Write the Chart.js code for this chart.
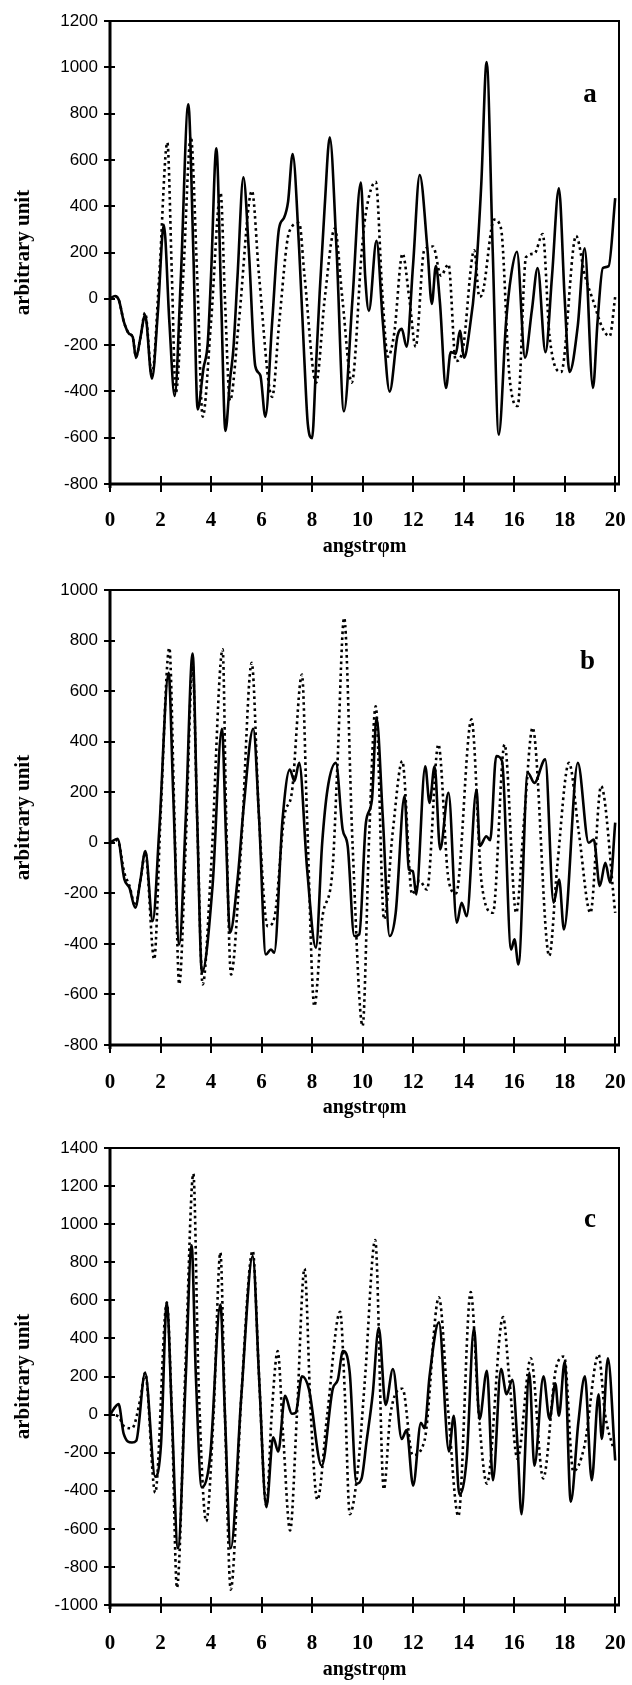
<!DOCTYPE html>
<html>
<head>
<meta charset="utf-8">
<script src="https://cdn.jsdelivr.net/npm/chart.js@4.4.1/dist/chart.umd.min.js"></script>
<style>
  html, body { margin: 0; padding: 0; background: #fff; overflow: hidden; }
  #page { position: relative; width: 632px; height: 1685px; background: #fff; }
  .panel { position: absolute; left: 0; width: 632px; }
</style>
</head>
<body>
<div id="page">
  <div class="panel" style="top:0;height:565px"><canvas id="chartA"></canvas></div>
  <div class="panel" style="top:565px;height:565px"><canvas id="chartB"></canvas></div>
  <div class="panel" style="top:1130px;height:555px"><canvas id="chartC"></canvas></div>
</div>
<script>
// values (x in angstrom, y in arbitrary units)

// panel a
const aSolidX = [0, 0.2, 0.35, 0.55, 0.75, 0.9, 1.03, 1.2, 1.39, 1.66, 1.9, 2.13, 2.35, 2.56, 2.8, 3.1, 3.3, 3.47, 3.7, 3.87, 4.0, 4.21, 4.4, 4.57, 4.75, 4.88, 5.05, 5.28, 5.5, 5.75, 5.95, 6.15, 6.42, 6.69, 6.89, 7.05, 7.23, 7.49, 7.69, 7.83, 8.0, 8.15, 8.3, 8.5, 8.7, 8.97, 9.26, 9.6, 9.93, 10.1, 10.25, 10.55, 10.8, 11.07, 11.38, 11.55, 11.74, 12.0, 12.26, 12.57, 12.74, 12.9, 13.06, 13.3, 13.49, 13.69, 13.85, 14.02, 14.2, 14.49, 14.7, 14.91, 15.15, 15.39, 15.68, 15.88, 16.11, 16.43, 16.7, 16.93, 17.24, 17.5, 17.77, 18.0, 18.19, 18.52, 18.79, 19.12, 19.3, 19.51, 19.74, 20.0];
const aSolidY = [0, 12, -5, -100, -150, -165, -255, -170, -70, -345, -50, 320, -100, -420, 80, 840, 200, -478, -300, -190, 100, 650, 0, -571, -350, -223, 100, 525, 200, -290, -330, -509, -100, 303, 350, 420, 625, 210, -254, -540, -602, -300, 25, 400, 698, 210, -486, 0, 502, 100, -52, 250, -100, -401, -161, -130, -207, 150, 535, 210, -22, 141, -14, -385, -230, -238, -138, -254, -161, 118, 500, 1023, 210, -587, -99, 102, 203, -254, -50, 133, -231, 100, 477, 0, -316, -115, 218, -385, -100, 133, 141, 435];
const aDotX = [0, 0.2, 0.35, 0.55, 0.75, 0.9, 1.03, 1.2, 1.39, 1.66, 1.95, 2.27, 2.45, 2.6, 2.9, 3.2, 3.45, 3.67, 4.0, 4.38, 4.55, 4.75, 5.1, 5.62, 5.9, 6.42, 6.7, 7.09, 7.49, 7.7, 8.16, 8.5, 8.9, 9.2, 9.57, 9.97, 10.12, 10.52, 10.78, 11.0, 11.25, 11.58, 11.85, 12.1, 12.44, 12.79, 13.1, 13.4, 13.69, 13.96, 14.42, 14.62, 14.75, 15.21, 15.48, 15.81, 16.14, 16.47, 16.8, 17.13, 17.4, 17.86, 18.45, 18.8, 19.12, 19.51, 19.78, 20.0];
const aDotY = [0, 10, -5, -100, -150, -165, -250, -170, -60, -330, 100, 675, 100, -408, 100, 700, 100, -509, -100, 458, 0, -440, -100, 466, 100, -424, -100, 288, 327, 100, -362, 0, 303, 0, -362, 210, 365, 505, 25, -250, -150, 195, 0, -207, 210, 226, 100, 149, -269, -223, 210, 9, 25, 342, 303, -331, -463, 180, 195, 280, -161, -316, 272, 100, -6, -130, -161, 9];

// panel b
const bSolidX = [0, 0.3, 0.57, 0.77, 1.0, 1.2, 1.4, 1.69, 1.95, 2.32, 2.5, 2.74, 3.0, 3.27, 3.45, 3.64, 4.06, 4.43, 4.6, 4.75, 5.05, 5.3, 5.67, 5.9, 6.17, 6.37, 6.5, 6.83, 7.12, 7.3, 7.49, 7.8, 8.15, 8.4, 8.61, 8.94, 9.21, 9.41, 9.67, 9.87, 10.13, 10.37, 10.55, 10.8, 11.07, 11.31, 11.66, 11.83, 11.99, 12.12, 12.48, 12.65, 12.85, 13.07, 13.4, 13.73, 13.92, 14.12, 14.51, 14.64, 14.9, 15.05, 15.29, 15.52, 15.88, 16.01, 16.17, 16.54, 16.8, 17.23, 17.56, 17.78, 17.97, 18.52, 18.95, 19.15, 19.39, 19.61, 19.8, 20.0];
const bSolidY = [0, 16, -145, -178, -257, -150, -33, -310, 50, 672, 200, -402, 100, 749, 100, -514, -171, 451, 0, -356, -145, 150, 451, 100, -442, -422, -435, 92, 290, 244, 316, -100, -415, 0, 211, 316, 53, -13, -369, -362, 79, 171, 494, 100, -369, -277, 185, -105, -112, -204, 303, 158, 303, -26, 198, -316, -237, -290, 211, -13, 26, 10, 343, 323, -422, -382, -481, 277, 237, 330, -237, -145, -343, 316, 0, 13, -171, -79, -158, 80];
const bDotX = [0, 0.3, 0.57, 0.77, 1.0, 1.2, 1.4, 1.75, 2.0, 2.35, 2.55, 2.74, 3.0, 3.27, 3.45, 3.67, 4.0, 4.46, 4.6, 4.79, 5.2, 5.61, 5.9, 6.24, 6.5, 6.9, 7.2, 7.6, 7.8, 8.09, 8.4, 8.81, 9.0, 9.27, 9.6, 10.0, 10.26, 10.52, 10.85, 11.2, 11.57, 11.96, 12.25, 12.55, 13.0, 13.4, 13.7, 14.31, 14.71, 15.16, 15.62, 16.08, 16.4, 16.73, 17.39, 17.7, 18.17, 18.56, 19.02, 19.44, 20.0];
const bDotY = [0, 10, -120, -170, -250, -150, -40, -461, 100, 771, 100, -560, 0, 700, 100, -560, -100, 765, 100, -521, 0, 712, 100, -330, -300, 105, 200, 666, 100, -646, -300, -105, 300, 890, 0, -725, 26, 540, -303, 50, 323, -204, -150, -185, 389, -145, -200, 488, -158, -277, 389, -277, 100, 455, -448, -100, 316, 40, -277, 224, -277];

// panel c
const cSolidX = [0, 0.34, 0.54, 0.87, 1.04, 1.39, 1.79, 2.02, 2.25, 2.45, 2.69, 3.0, 3.23, 3.4, 3.63, 3.97, 4.37, 4.55, 4.78, 5.2, 5.65, 5.9, 6.19, 6.46, 6.66, 6.93, 7.2, 7.35, 7.6, 7.87, 8.38, 8.82, 9.02, 9.22, 9.49, 9.76, 9.96, 10.16, 10.4, 10.64, 10.91, 11.2, 11.55, 11.74, 12.0, 12.31, 12.45, 12.65, 13.02, 13.42, 13.61, 13.83, 14.12, 14.41, 14.63, 14.92, 15.16, 15.48, 15.7, 15.93, 16.13, 16.29, 16.6, 16.8, 17.16, 17.4, 17.63, 17.77, 18.0, 18.24, 18.54, 18.8, 19.07, 19.34, 19.47, 19.71, 20.0];
const cSolidY = [0, 55, -100, -147, -137, 220, -326, -156, 588, 0, -702, 200, 889, 200, -382, -213, 578, 0, -702, 100, 832, 200, -486, -119, -194, 98, 4, 10, 201, 136, -269, 136, 183, 333, 220, -363, -335, -137, 107, 456, 51, 239, -128, -81, -373, -43, -72, 201, 484, -194, -6, -420, -232, 456, -24, 230, -345, 239, 107, 183, -156, -523, 220, -269, 201, -24, 164, -6, 277, -458, -43, 201, -345, 107, -128, 296, -241];
const cDotX = [0, 0.34, 0.54, 0.87, 1.21, 1.39, 1.79, 2.25, 2.45, 2.65, 3.0, 3.3, 3.5, 3.81, 4.1, 4.37, 4.55, 4.78, 5.2, 5.65, 5.9, 6.19, 6.4, 6.64, 6.85, 7.13, 7.4, 7.7, 7.95, 8.21, 8.6, 9.11, 9.3, 9.49, 9.8, 10.1, 10.5, 10.84, 11.1, 11.58, 11.98, 12.45, 13.02, 13.4, 13.79, 14.28, 14.6, 14.92, 15.56, 15.8, 16.13, 16.66, 17.15, 17.65, 17.98, 18.34, 18.78, 19.34, 19.6, 19.94];
const cDotY = [0, -10, -60, -72, 88, 220, -410, 588, 0, -910, 300, 1265, 200, -561, 0, 851, 0, -919, 100, 860, 200, -480, 0, 333, -100, -608, 0, 766, 0, -448, 0, 540, 100, -523, -300, 200, 917, -392, 0, 136, -213, -137, 616, 0, -533, 644, 0, -363, 512, 200, -232, 296, -335, 239, 305, -298, -166, 315, 0, -185];

const serif = '"Liberation Serif", "Times New Roman", serif';
const sans = '"Liberation Sans", Arial, sans-serif';

const toPoints = (xs, ys) => xs.map((x, i) => ({ x: x, y: ys[i] }));

// box, crossing tick marks and the panel letter
const framePlugin = {
  id: 'frame',
  afterDraw(chart, args, opts) {
    const { ctx, chartArea, scales } = chart;
    const { left, right, top, bottom } = chartArea;
    const x = scales.x, y = scales.y;
    ctx.save();
    ctx.strokeStyle = '#000';
    ctx.lineCap = 'butt';

    ctx.lineWidth = 2;
    ctx.beginPath();
    ctx.moveTo(left, top);
    ctx.lineTo(right, top);
    ctx.lineTo(right, bottom);
    ctx.stroke();

    ctx.lineWidth = 3;
    ctx.beginPath();
    ctx.moveTo(left, top - 1);
    ctx.lineTo(left, bottom + 4);
    ctx.moveTo(left - 1, bottom);
    ctx.lineTo(right + 1, bottom);
    ctx.stroke();

    ctx.lineWidth = 2;
    ctx.beginPath();
    x.ticks.forEach(t => {
      const px = Math.round(x.getPixelForValue(t.value));
      ctx.moveTo(px, bottom - 8);
      ctx.lineTo(px, bottom + 8);
    });
    y.ticks.forEach(t => {
      const py = Math.round(y.getPixelForValue(t.value));
      ctx.moveTo(left - 6, py);
      ctx.lineTo(left + 5, py);
    });
    ctx.stroke();

    ctx.fillStyle = '#000';
    ctx.font = 'bold 27px ' + serif;
    ctx.textAlign = 'center';
    ctx.textBaseline = 'middle';
    ctx.fillText(opts.letter, x.getPixelForValue(opts.lx), y.getPixelForValue(opts.ly));
    ctx.restore();
  }
};

function makePanel(id, solid, dotted, p) {
  const ctx = document.getElementById(id);
  if (!ctx) return;
  new Chart(ctx, {
    type: 'line',
    data: {
      datasets: [{
        label: 'solid',
        data: solid,
        borderColor: '#000',
        borderWidth: 2.6,
        pointRadius: 0,
        cubicInterpolationMode: 'monotone',
        fill: false
      }, {
        label: 'dotted',
        data: dotted,
        borderColor: '#000',
        borderWidth: 2.6,
        borderDash: [2.6, 3.4],
        pointRadius: 0,
        cubicInterpolationMode: 'monotone',
        fill: false
      }]
    },
    plugins: [framePlugin],
    options: {
      responsive: true,
      maintainAspectRatio: false,
      animation: false,
      events: [],
      layout: { padding: { top: p.padTop, right: 13, left: 0, bottom: 0 } },
      plugins: {
        legend: { display: false },
        tooltip: { enabled: false },
        frame: { letter: p.letter, lx: p.lx, ly: p.ly }
      },
      scales: {
        x: {
          type: 'linear',
          min: 0,
          max: 20.15,
          grid: { display: false, drawTicks: false },
          border: { display: false },
          ticks: {
            stepSize: 2,
            includeBounds: false,
            autoSkip: false,
            maxRotation: 0,
            padding: p.labelPad,
            color: '#000',
            font: { family: serif, size: 21, weight: 'bold' }
          },
          title: {
            display: true,
            text: 'angstrφm',
            color: '#000',
            font: { family: serif, size: 20, weight: 'bold' },
            padding: { top: 0, bottom: p.titlePad }
          },
          // fixed axis box, no extra side room for the end labels
          afterFit: s => { s.height = p.axisH; s.paddingLeft = 0; s.paddingRight = 0; }
        },
        y: {
          min: p.yMin,
          max: p.yMax,
          grid: { display: false, drawTicks: false },
          border: { display: false },
          ticks: {
            stepSize: 200,
            padding: 12,
            color: '#000',
            font: { family: sans, size: 17 },
            callback: v => String(v)
          },
          title: {
            display: true,
            text: 'arbitrary unit',
            color: '#000',
            font: { family: serif, size: 21, weight: 'bold' },
            padding: { top: 11, bottom: 0 }
          },
          afterFit: s => { s.width = 110; s.paddingTop = 0; s.paddingBottom = 0; }
        }
      }
    }
  });
}

document.addEventListener('DOMContentLoaded', () => {
  makePanel('chartA', toPoints(aSolidX, aSolidY), toPoints(aDotX, aDotY),
    { letter: 'a', lx: 19.0, ly: 880, yMin: -800, yMax: 1200, padTop: 21, axisH: 81, labelPad: 24, titlePad: 6 });
  makePanel('chartB', toPoints(bSolidX, bSolidY), toPoints(bDotX, bDotY),
    { letter: 'b', lx: 18.9, ly: 715, yMin: -800, yMax: 1000, padTop: 25, axisH: 85, labelPad: 25, titlePad: 10 });
  makePanel('chartC', toPoints(cSolidX, cSolidY), toPoints(cDotX, cDotY),
    { letter: 'c', lx: 19.0, ly: 1020, yMin: -1000, yMax: 1400, padTop: 18, axisH: 80, labelPad: 26, titlePad: 3 });
});
</script>
</body>
</html>
